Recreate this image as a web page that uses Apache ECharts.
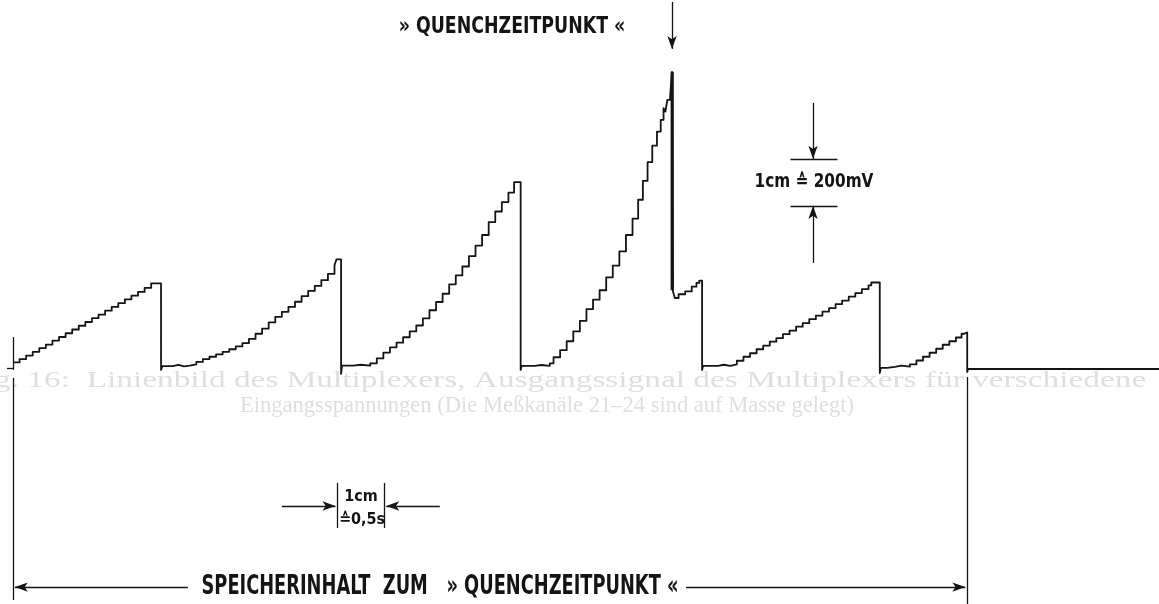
<!DOCTYPE html>
<html>
<head>
<meta charset="utf-8">
<title>Speicherinhalt zum Quenchzeitpunkt</title>
<script src="https://cdn.jsdelivr.net/npm/echarts@6/dist/echarts.min.js"></script>
<style>
  html, body { margin: 0; padding: 0; background: #fff; }
  #chart { width: 1159px; height: 604px; }
</style>
</head>
<body>
<div id="chart"></div>
<script>
// Zeit in s, Spannung in mV  (1cm = 0,5s  bzw.  1cm = 200mV)
const trace = [
  // Rampe 1
  [0.01, 28], [0.07, 42], [0.14, 57], [0.21, 73], [0.28, 89], [0.35, 104], [0.42, 121], [0.49, 136],
  [0.56, 152], [0.63, 168], [0.70, 184], [0.77, 200], [0.84, 216], [0.91, 231], [0.98, 248], [1.05, 264],
  [1.12, 280], [1.19, 296], [1.26, 312], [1.33, 328], [1.40, 345], [1.47, 364],
  [1.575, -4], [1.59, 12], [1.70, 17], [1.76, 11], [1.82, 14],
  // Rampe 2
  [1.88, 20], [1.95, 30], [2.02, 42], [2.09, 52], [2.16, 62], [2.23, 73], [2.30, 84], [2.37, 96],
  [2.44, 110], [2.51, 128], [2.58, 150], [2.65, 172], [2.72, 198], [2.79, 222], [2.86, 243], [2.93, 264],
  [3.00, 286], [3.07, 310], [3.14, 332], [3.21, 354], [3.28, 378], [3.35, 405], [3.42, 440], [3.44, 466],
  [3.49, -21], [3.50, 14], [3.62, 18], [3.70, 14],
  // Rampe 3
  [3.80, 24], [3.87, 45], [3.94, 70], [4.01, 92], [4.08, 112], [4.15, 135], [4.22, 160], [4.29, 185],
  [4.36, 215], [4.43, 250], [4.50, 285], [4.57, 320], [4.64, 360], [4.71, 398], [4.78, 436], [4.85, 480],
  [4.92, 525], [4.99, 570], [5.06, 625], [5.13, 670], [5.20, 710], [5.27, 750], [5.33, 795],
  [5.40, -4], [5.41, 13], [5.55, 17], [5.62, 13],
  // Rampe 4 bis zum Quench
  [5.71, 24], [5.75, 50], [5.82, 80], [5.89, 118], [5.96, 160], [6.03, 205], [6.10, 255], [6.17, 295],
  [6.24, 335], [6.31, 390], [6.38, 440], [6.45, 500], [6.52, 570], [6.59, 640], [6.65, 720], [6.70, 800],
  [6.75, 880], [6.80, 950], [6.85, 1010], [6.89, 1060], [6.92, 1110], [6.94, 1095], [6.96, 1145], [6.99, 1160],
  [7.01, 1264], [7.02, 330], [7.04, 302], [7.08, 318], [7.15, 330], [7.22, 350], [7.27, 366], [7.30, 376],
  [7.33, -4], [7.34, 13], [7.50, 18], [7.56, 13],
  // Rampe 5
  [7.63, 20], [7.70, 35], [7.77, 52], [7.84, 67], [7.91, 84], [7.98, 99], [8.05, 116], [8.12, 131],
  [8.19, 148], [8.26, 163], [8.33, 180], [8.40, 195], [8.47, 212], [8.54, 227], [8.61, 244], [8.68, 259],
  [8.75, 276], [8.82, 291], [8.89, 308], [8.96, 323], [9.03, 340], [9.10, 356], [9.13, 368],
  [9.22, -17], [9.23, 5], [9.30, 9], [9.38, 14], [9.45, 10],
  // Rampe 6
  [9.54, 20], [9.61, 36], [9.68, 52], [9.75, 69], [9.82, 86], [9.89, 103], [9.96, 118], [10.03, 134],
  [10.09, 150], [10.12, 156],
  [10.15, -13], [10.16, 0], [12.2, 0]
];
const quenchSpike = [[7.012, 1264], [7.012, 335]];

const chart = echarts.init(document.getElementById('chart'));

const ink = '#141414';
const narrow = "'DejaVu Sans Condensed', 'Liberation Sans Narrow', sans-serif";

// Hilfsfunktion für Bemaßungslinien (Datenkoordinaten)
const seg = (a, b, headA, headB) => [
  { coord: a, symbol: headA ? 'arrow' : 'none', symbolSize: [7, 13] },
  { coord: b, symbol: headB ? 'arrow' : 'none', symbolSize: [7, 13] }
];

const option = {
  animation: false,
  grid: { left: 0, right: 0, top: 0, bottom: 0 },
  xAxis: { type: 'value', min: -0.138, max: 12.19, show: false },
  yAxis: { type: 'value', min: -1000, max: 1570, show: false },
  series: [
    {
      name: 'Speicherinhalt',
      type: 'line',
      step: 'end',
      data: trace,
      showSymbol: false,
      lineStyle: { color: ink, width: 1.8, join: 'round', cap: 'round' },
      markLine: {
        silent: true,
        symbol: ['none', 'none'],
        label: { show: false },
        lineStyle: { color: ink, width: 1.3, type: 'solid' },
        data: [
          // Startmarke
          seg([0, 136], [0, -4]),
          seg([-0.064, 4], [0, 4]),
          // Quenchzeitpunkt-Pfeil
          seg([7.01, 1562], [7.01, 1362], false, true),
          // 1cm = 200mV
          seg([8.51, 1132], [8.51, 894], false, true),
          seg([8.27, 894], [8.77, 894]),
          seg([8.27, 694], [8.77, 694]),
          seg([8.51, 451], [8.51, 694], false, true),
          // 1cm = 0,5s
          seg([3.45, -485], [3.45, -677]),
          seg([3.95, -485], [3.95, -677]),
          seg([2.86, -583], [3.43, -583], false, true),
          seg([4.54, -583], [3.97, -583], false, true),
          // Speicherinhalt-Klammer
          seg([0, -38], [0, -983]),
          seg([10.15, -34], [10.15, -1000]),
          seg([1.86, -928], [0.02, -928], false, true),
          seg([7.16, -928], [10.13, -928], false, true)
        ]
      }
    },
    {
      name: 'Quench',
      type: 'line',
      data: quenchSpike,
      showSymbol: false,
      lineStyle: { color: ink, width: 3.2 }
    }
  ],
  graphic: [
    // durchscheinender Text der Rückseite
    { type: 'text', x: -6, y: 381, silent: true, z: -10, scaleX: 1.45,
      style: { text: 'g. 16:  Linienbild des Multiplexers, Ausgangssignal des Multiplexers für verschiedene',
        fontFamily: 'Liberation Serif', fontSize: 23, fill: '#dedede', verticalAlign: 'middle' } },
    { type: 'text', x: 240, y: 406, silent: true, z: -10, scaleX: 0.98,
      style: { text: 'Eingangsspannungen (Die Meßkanäle 21–24 sind auf Masse gelegt)',
        fontFamily: 'Liberation Serif', fontSize: 23, fill: '#dedede', verticalAlign: 'middle' } },

    { type: 'text', x: 512, y: 27, silent: true, scaleX: 0.92, scaleY: 1.08,
      style: { text: '» QUENCHZEITPUNKT «', fontFamily: narrow, fontWeight: 'bold', fontSize: 21,
        fill: ink, align: 'center', verticalAlign: 'middle' } },
    { type: 'text', x: 814, y: 182, silent: true, scaleY: 1.1,
      style: { text: '1cm ≙ 200mV', fontFamily: narrow, fontWeight: 'bold', fontSize: 17,
        fill: ink, align: 'center', verticalAlign: 'middle' } },
    { type: 'text', x: 361, y: 497, silent: true,
      style: { text: '1cm', fontFamily: narrow, fontWeight: 'bold', fontSize: 16,
        fill: ink, align: 'center', verticalAlign: 'middle' } },
    { type: 'text', x: 362, y: 520, silent: true,
      style: { text: '≙0,5s', fontFamily: narrow, fontWeight: 'bold', fontSize: 16,
        fill: ink, align: 'center', verticalAlign: 'middle' } },
    { type: 'text', x: 440, y: 587, silent: true, scaleX: 0.86, scaleY: 1.18,
      style: { text: 'SPEICHERINHALT  ZUM   » QUENCHZEITPUNKT «', fontFamily: narrow, fontWeight: 'bold', fontSize: 23,
        fill: ink, align: 'center', verticalAlign: 'middle' } }
  ]
};

chart.setOption(option);
</script>
</body>
</html>
